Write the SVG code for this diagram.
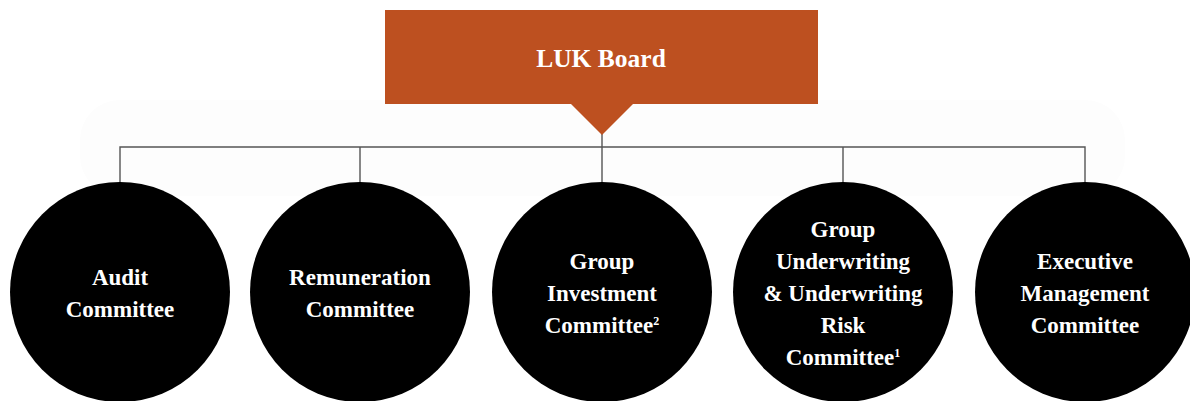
<svg xmlns="http://www.w3.org/2000/svg" width="1190" height="401" viewBox="0 0 1190 401">
<defs>
<style>
.bg{fill:#fdfdfd}
.conn{stroke:#555;stroke-width:1.4;fill:none}
.circ{fill:#000}
.lbl{font-family:"Liberation Serif","Times New Roman",serif;font-weight:bold;font-size:23px;fill:#fff;text-anchor:middle}
.sup{font-size:12px}
.title{font-family:"Liberation Serif","Times New Roman",serif;font-weight:bold;font-size:25.5px;fill:#fff;text-anchor:middle}
</style>
</defs>
<rect width="1190" height="401" fill="#fff"/>
<rect class="bg" x="80" y="100" width="1045" height="96" rx="40"/>
<g id="connectors">
<path class="conn" d="M120,183 V147 H1085 V183 M360,147 V183 M602,134 V183 M843,147 V183"/>
</g>
<g id="board">
<rect x="385" y="10" width="433" height="94" fill="#BD5020"/>
<polygon points="570,103 634,103 602,135" fill="#BD5020"/>
<text class="title" x="601" y="67">LUK Board</text>
</g>
<g id="audit">
<circle class="circ" cx="120" cy="292" r="110"/>
<text class="lbl" x="120" y="285">Audit</text>
<text class="lbl" x="120" y="317">Committee</text>
</g>
<g id="remuneration">
<circle class="circ" cx="360" cy="292" r="110"/>
<text class="lbl" x="360" y="285">Remuneration</text>
<text class="lbl" x="360" y="317">Committee</text>
</g>
<g id="investment">
<circle class="circ" cx="602" cy="292" r="110"/>
<text class="lbl" x="602" y="269">Group</text>
<text class="lbl" x="602" y="301">Investment</text>
<text class="lbl" x="602" y="333">Committee<tspan class="sup" dy="-8">2</tspan></text>
</g>
<g id="underwriting">
<circle class="circ" cx="843" cy="292" r="110"/>
<text class="lbl" x="843" y="237">Group</text>
<text class="lbl" x="843" y="269">Underwriting</text>
<text class="lbl" x="843" y="301">&amp; Underwriting</text>
<text class="lbl" x="843" y="333">Risk</text>
<text class="lbl" x="843" y="365">Committee<tspan class="sup" dy="-8">1</tspan></text>
</g>
<g id="executive">
<circle class="circ" cx="1085" cy="292" r="110"/>
<text class="lbl" x="1085" y="269">Executive</text>
<text class="lbl" x="1085" y="301">Management</text>
<text class="lbl" x="1085" y="333">Committee</text>
</g>
</svg>
